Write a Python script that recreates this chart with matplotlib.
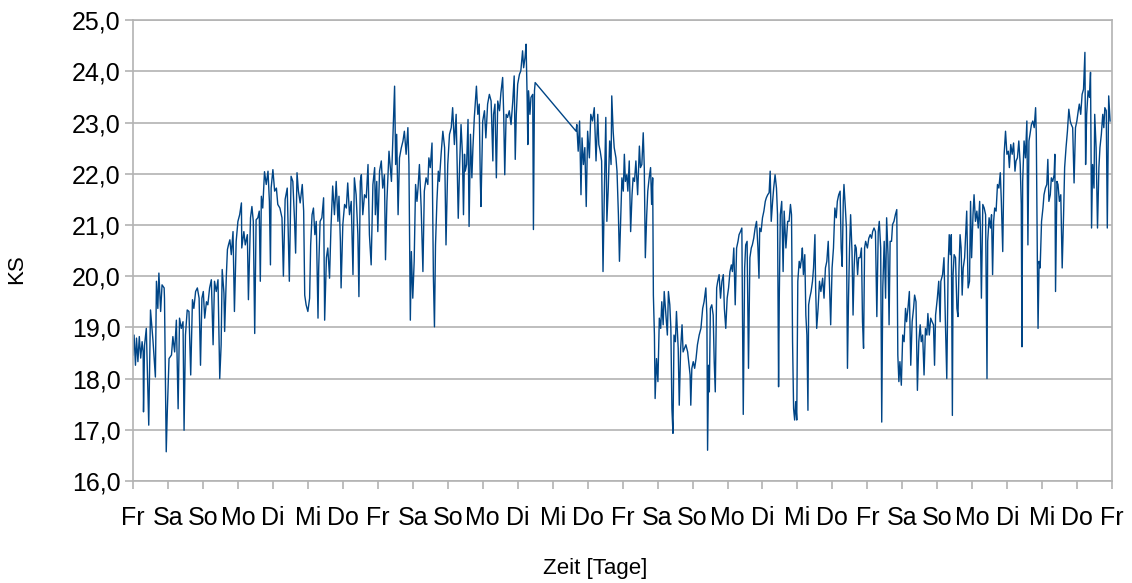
import matplotlib
matplotlib.use("Agg")
import matplotlib.pyplot as plt
from matplotlib.ticker import FuncFormatter, MultipleLocator

plt.rcParams['font.family'] = ['Liberation Sans', 'DejaVu Sans']

# time in days since the first Friday, KS values
t_week1 = [0.00, 0.03, 0.07, 0.10, 0.14, 0.18, 0.22, 0.26, 0.29, 0.30, 0.33, 0.38, 0.45, 0.50,
           0.57, 0.64, 0.67, 0.71, 0.74, 0.79, 0.83, 0.89, 0.90, 0.95, 0.98, 1.03, 1.10, 1.14,
           1.19, 1.24, 1.29, 1.33, 1.38, 1.43, 1.46, 1.50, 1.55, 1.60, 1.65, 1.70, 1.74, 1.79,
           1.84, 1.89, 1.93, 1.97, 2.01, 2.05, 2.10, 2.14, 2.19, 2.24, 2.29, 2.33, 2.38, 2.43,
           2.48, 2.52, 2.55, 2.60, 2.62, 2.67, 2.70, 2.73, 2.77, 2.81, 2.86, 2.90, 2.95, 3.00,
           3.05, 3.10, 3.11, 3.17, 3.21, 3.27, 3.30, 3.36, 3.40, 3.44, 3.48, 3.52, 3.57, 3.61,
           3.64, 3.67, 3.71, 3.76, 3.81, 3.86, 3.90, 3.93, 3.95, 4.00, 4.05, 4.10, 4.14, 4.20,
           4.26, 4.30, 4.35, 4.41, 4.47, 4.52, 4.57]
ks_week1 = [18.46, 18.85, 18.26, 18.79, 18.33, 18.82, 18.40, 18.72, 18.52, 17.35, 18.65, 18.98, 17.09, 19.34,
            18.75, 18.03, 19.90, 19.37, 20.06, 19.31, 19.83, 19.77, 19.57, 16.57, 17.35, 18.39, 18.46, 18.82,
            18.52, 19.14, 17.41, 19.18, 18.98, 19.11, 16.99, 18.85, 19.34, 19.31, 18.07, 19.54, 19.37, 19.70,
            19.77, 19.57, 18.26, 19.57, 19.70, 19.18, 19.50, 19.44, 19.77, 19.93, 18.66, 19.90, 19.70, 19.93,
            18.00, 18.66, 20.13, 19.67, 18.92, 20.03, 20.52, 20.61, 20.71, 20.42, 20.87, 19.31, 20.68, 21.07,
            21.20, 21.43, 20.55, 20.87, 20.61, 20.81, 19.54, 21.14, 21.36, 21.07, 18.88, 21.10, 21.14, 21.27,
            19.90, 21.56, 21.33, 22.04, 21.79, 22.05, 21.46, 20.22, 21.72, 22.08, 21.66, 21.72, 21.40, 21.33,
            21.14, 20.00, 21.50, 21.72, 19.90, 21.95, 21.85]

t_week2 = [4.62, 4.65, 4.69, 4.73, 4.78, 4.84, 4.88, 4.91, 4.95, 5.00, 5.05, 5.08, 5.12, 5.16,
           5.20, 5.24, 5.29, 5.31, 5.35, 5.40, 5.45, 5.48, 5.53, 5.57, 5.62, 5.66, 5.71, 5.76,
           5.81, 5.86, 5.89, 5.93, 5.95, 6.00, 6.05, 6.10, 6.14, 6.19, 6.24, 6.29, 6.33, 6.38,
           6.43, 6.46, 6.50, 6.53, 6.57, 6.62, 6.67, 6.72, 6.76, 6.81, 6.86, 6.91, 6.93, 6.97,
           7.00, 7.05, 7.10, 7.14, 7.19, 7.22, 7.26, 7.32, 7.35, 7.39, 7.43, 7.48, 7.51, 7.54,
           7.58, 7.62, 7.67, 7.72, 7.76, 7.81, 7.86, 7.89, 7.93, 7.96, 8.00, 8.04, 8.08, 8.12,
           8.15, 8.19, 8.24, 8.29, 8.33, 8.38, 8.43, 8.46, 8.50, 8.55, 8.59, 8.62, 8.65, 8.69,
           8.73, 8.76, 8.81, 8.86, 8.91, 8.95, 9.00, 9.05, 9.10, 9.14, 9.19, 9.24, 9.29]
ks_week2 = [21.07, 20.45, 22.02, 21.66, 21.43, 21.79, 21.27, 19.63, 19.44, 19.31, 19.57, 20.61, 21.20, 21.33,
            20.81, 21.07, 19.18, 20.16, 21.07, 21.14, 21.53, 19.14, 20.36, 20.55, 19.96, 20.94, 21.76, 21.20,
            21.85, 21.07, 21.56, 20.68, 19.77, 21.01, 21.40, 21.33, 21.82, 21.20, 21.46, 20.03, 21.92, 21.59,
            20.81, 19.60, 21.85, 21.98, 21.20, 21.59, 21.53, 22.18, 20.81, 20.22, 21.79, 22.12, 21.20, 21.85,
            20.87, 22.05, 22.25, 21.72, 21.98, 20.32, 21.46, 22.44, 22.18, 21.85, 22.67, 23.71, 22.18, 22.77,
            21.20, 22.31, 22.50, 22.64, 22.83, 22.38, 22.90, 22.18, 19.14, 20.48, 19.57, 20.29, 21.79, 21.46,
            21.72, 22.18, 21.33, 20.09, 21.66, 21.92, 21.79, 22.31, 22.12, 22.60, 19.96, 19.01, 20.61, 21.46,
            22.05, 21.85, 22.38, 22.83, 22.51, 20.61, 22.18, 22.77, 22.90, 23.29, 22.57, 23.16, 21.46]

t_week3 = [9.30, 9.34, 9.38, 9.42, 9.45, 9.48, 9.50, 9.54, 9.58, 9.61, 9.65, 9.69, 9.72, 9.76,
           9.79, 9.82, 9.86, 9.90, 9.93, 9.95, 10.00, 10.05, 10.09, 10.14, 10.19, 10.24, 10.29, 10.31,
           10.35, 10.39, 10.43, 10.48, 10.52, 10.57, 10.60, 10.63, 10.67, 10.71, 10.76, 10.81, 10.86, 10.90,
           10.93, 10.96, 11.00, 11.05, 11.09, 11.14, 11.17, 11.21, 11.24, 11.27, 11.29, 11.31, 11.35, 11.38,
           11.43, 11.45, 11.48, 11.50,
           12.67, 12.69, 12.73, 12.77, 12.81, 12.84, 12.88, 12.92, 12.96, 13.00, 13.05, 13.09, 13.14, 13.19,
           13.24, 13.29, 13.32, 13.36, 13.40, 13.44, 13.48, 13.52, 13.55, 13.59, 13.63, 13.67, 13.69, 13.73,
           13.76, 13.81, 13.84, 13.88, 13.91]
ks_week3 = [21.13, 22.18, 22.96, 22.38, 21.20, 22.38, 22.05, 22.18, 23.06, 20.97, 22.77, 21.92, 22.51, 23.10,
            23.42, 23.71, 23.16, 23.36, 21.92, 21.36, 23.03, 23.23, 22.70, 23.36, 23.55, 23.42, 22.25, 23.16,
            23.36, 21.92, 23.42, 23.23, 23.58, 23.88, 23.16, 21.98, 23.16, 23.10, 23.23, 22.96, 23.42, 23.91,
            22.28, 23.16, 23.75, 23.94, 24.01, 24.40, 24.07, 24.27, 24.53, 23.49, 22.57, 23.62, 23.16, 23.49,
            23.55, 20.91, 23.62, 23.78,
            22.83, 22.96, 22.44, 23.03, 21.59, 22.70, 22.18, 22.51, 21.36, 22.83, 22.31, 23.16, 23.03, 23.29,
            22.25, 23.16, 22.57, 22.44, 22.25, 20.09, 21.72, 23.10, 21.07, 21.72, 22.64, 22.18, 23.52, 22.83,
            22.51, 22.31, 22.05, 21.20, 20.29]

t_week4 = [13.95, 13.98, 14.02, 14.05, 14.08, 14.12, 14.15, 14.19, 14.23, 14.27, 14.30, 14.34, 14.38, 14.43,
           14.48, 14.51, 14.55, 14.59, 14.62, 14.65, 14.69, 14.72, 14.76, 14.80, 14.83, 14.86, 14.88, 14.91,
           14.93, 14.97, 15.01, 15.05, 15.09, 15.12, 15.16, 15.19, 15.24, 15.28, 15.31, 15.35, 15.38, 15.41,
           15.44, 15.47, 15.51, 15.54, 15.59, 15.62, 15.66, 15.70, 15.73, 15.77, 15.81, 15.86, 15.90, 15.93,
           15.95, 15.98, 16.02, 16.06, 16.10, 16.14, 16.19, 16.24, 16.29, 16.33, 16.38, 16.41, 16.43, 16.46,
           16.48, 16.51, 16.55, 16.59, 16.62, 16.65, 16.69, 16.72, 16.76, 16.80, 16.84, 16.88, 16.91, 16.95,
           16.99, 17.03, 17.07, 17.11, 17.14, 17.18, 17.22, 17.26, 17.30, 17.33, 17.37, 17.41, 17.45, 17.49,
           17.52, 17.56, 17.60, 17.64, 17.68, 17.71, 17.75, 17.79, 17.83, 17.87, 17.90, 17.92, 17.96, 18.00,
           18.04, 18.08, 18.11, 18.15, 18.19, 18.22, 18.25, 18.29, 18.32, 18.36, 18.40, 18.43, 18.46, 18.48,
           18.51, 18.55, 18.59, 18.62, 18.67, 18.72]
ks_week4 = [21.20, 21.92, 21.66, 22.38, 21.85, 21.98, 21.66, 22.25, 20.87, 21.59, 21.92, 21.85, 22.25, 21.59,
            22.54, 22.12, 22.18, 22.80, 22.12, 20.36, 21.20, 21.66, 21.92, 22.12, 21.40, 21.92, 19.63, 18.85,
            17.61, 18.39, 17.94, 19.18, 18.98, 19.50, 19.05, 19.70, 19.24, 18.85, 19.70, 19.44, 18.98, 17.41,
            16.93, 18.85, 18.72, 19.31, 18.59, 17.48, 18.59, 19.05, 18.52, 18.59, 18.66, 18.52, 18.26, 18.07,
            17.48, 18.20, 18.33, 18.20, 18.39, 18.66, 18.85, 18.98, 19.37, 19.50, 19.77, 19.24, 16.60, 18.26,
            17.74, 19.37, 19.44, 19.24, 18.33, 17.74, 19.77, 19.90, 20.03, 19.57, 19.90, 20.03, 19.37, 18.98,
            19.57, 19.77, 20.09, 20.22, 20.09, 20.55, 19.44, 20.55, 20.68, 20.81, 20.87, 20.94, 17.30, 20.16,
            20.61, 20.68, 18.20, 20.36, 20.55, 20.61, 20.74, 20.94, 21.07, 20.55, 19.96, 20.94, 20.87, 21.14,
            21.27, 21.46, 21.53, 21.59, 21.63, 22.05, 21.07, 21.46, 21.72, 21.98, 21.72, 21.20, 17.84, 19.57,
            21.20, 21.46, 20.09, 21.27, 20.55, 21.07]

t_week5 = [18.76, 18.80, 18.83, 18.86, 18.89, 18.92, 18.95, 18.98, 19.01, 19.05, 19.08, 19.12, 19.14, 19.17,
           19.21, 19.24, 19.27, 19.30, 19.32, 19.35, 19.39, 19.43, 19.46, 19.50, 19.52, 19.55, 19.59, 19.63,
           19.67, 19.72, 19.76, 19.80, 19.84, 19.88, 19.92, 19.95, 19.99, 20.03, 20.07, 20.11, 20.14, 20.18,
           20.22, 20.25, 20.28, 20.31, 20.33, 20.37, 20.40, 20.43, 20.46, 20.49, 20.52, 20.56, 20.59, 20.62,
           20.65, 20.68, 20.72, 20.75, 20.79, 20.83, 20.86, 20.89, 20.92, 20.95, 21.00, 21.04, 21.08, 21.12,
           21.15, 21.19, 21.23, 21.27, 21.31, 21.34, 21.38, 21.41, 21.44, 21.48, 21.52, 21.55, 21.59, 21.62,
           21.65, 21.69, 21.72, 21.76, 21.80, 21.84, 21.87, 21.90, 21.93, 21.97, 22.01, 22.05, 22.09, 22.12,
           22.16, 22.20, 22.24, 22.28, 22.32, 22.35, 22.39, 22.43, 22.47, 22.51, 22.54, 22.58, 22.62, 22.66,
           22.70, 22.73, 22.77, 22.81, 22.85, 22.89, 22.92, 22.95, 23.00, 23.04, 23.08, 23.10, 23.15, 23.19,
           23.23, 23.27, 23.31, 23.34]
ks_week5 = [21.07, 21.40, 21.20, 18.72, 17.41, 17.19, 17.55, 17.19, 19.90, 20.29, 20.16, 20.36, 20.55, 20.03,
            20.42, 19.24, 18.85, 17.38, 19.44, 19.57, 19.70, 19.90, 20.16, 20.81, 19.77, 18.98, 19.37, 19.90,
            19.70, 19.96, 19.57, 20.16, 20.29, 20.68, 19.77, 19.05, 20.16, 20.55, 21.33, 21.14, 21.46, 21.59,
            21.66, 20.55, 20.19, 21.46, 21.79, 21.33, 20.94, 18.20, 19.57, 20.55, 21.20, 20.48, 19.24, 20.16,
            20.61, 20.55, 20.03, 20.36, 20.36, 20.55, 19.11, 18.59, 20.55, 20.68, 20.55, 20.74, 20.81, 20.74,
            20.87, 20.94, 20.87, 19.21, 20.87, 21.07, 20.55, 17.15, 19.77, 20.68, 19.57, 21.14, 20.42, 19.05,
            20.68, 20.68, 21.01, 21.07, 21.20, 21.30, 18.46, 17.94, 18.33, 17.87, 18.85, 18.72, 19.37, 19.11,
            19.37, 19.70, 18.26, 19.11, 19.37, 19.63, 19.50, 17.77, 18.72, 19.05, 18.72, 18.85, 18.07, 18.98,
            18.85, 19.27, 18.85, 19.18, 19.11, 19.05, 18.26, 19.24, 19.57, 19.90, 19.11, 19.90, 20.03, 20.36,
            19.11, 18.00, 20.22, 20.81]

t_week6 = [23.37, 23.40, 23.43, 23.45, 23.48, 23.52, 23.56, 23.59, 23.62, 23.65, 23.68, 23.71, 23.74, 23.78,
           23.81, 23.84, 23.88, 23.92, 23.95, 23.98, 24.02, 24.05, 24.09, 24.13, 24.17, 24.21, 24.23, 24.26,
           24.30, 24.34, 24.38, 24.42, 24.44, 24.48, 24.52, 24.55, 24.58, 24.61, 24.64, 24.68, 24.72, 24.76,
           24.80, 24.83, 24.87, 24.91, 24.95, 24.99, 25.03, 25.06, 25.10, 25.14, 25.18, 25.22, 25.25, 25.29,
           25.33, 25.37, 25.40, 25.42, 25.44, 25.48, 25.52, 25.56, 25.59, 25.62, 25.65, 25.69, 25.73, 25.77,
           25.81, 25.83, 25.86, 25.88, 25.91, 25.94, 25.98, 26.02, 26.05, 26.09, 26.13, 26.16, 26.19, 26.23,
           26.26, 26.30, 26.34, 26.36, 26.38, 26.42, 26.45, 26.49, 26.53, 26.57, 26.61, 26.64, 26.68, 26.72,
           26.76, 26.80, 26.83, 26.87, 26.91, 26.95, 26.99, 27.03, 27.06, 27.10, 27.14, 27.18, 27.22, 27.24,
           27.27, 27.31, 27.35, 27.38, 27.41, 27.44, 27.48, 27.50, 27.54, 27.58, 27.62, 27.65, 27.69, 27.73,
           27.76, 27.79, 27.83, 27.86, 27.90, 27.94]
ks_week6 = [20.42, 20.81, 17.28, 20.03, 20.42, 20.36, 19.37, 19.21, 20.16, 20.81, 20.55, 19.63, 20.16, 20.36,
            20.81, 21.27, 19.77, 19.90, 21.46, 20.36, 21.20, 21.59, 21.07, 21.27, 20.94, 21.46, 20.94, 19.57,
            21.40, 21.33, 21.20, 18.00, 20.68, 21.14, 20.94, 21.20, 20.03, 21.07, 21.33, 21.27, 21.79, 21.72,
            22.02, 21.46, 20.48, 22.38, 22.83, 22.38, 22.44, 22.12, 22.57, 22.38, 22.60, 22.05, 22.25, 22.31,
            22.64, 22.18, 21.40, 18.62, 21.85, 22.64, 22.31, 23.03, 20.61, 22.64, 22.77, 22.96, 23.03, 22.90,
            23.29, 22.77, 20.29, 18.98, 20.29, 20.16, 21.07, 21.33, 21.59, 21.72, 21.79, 22.28, 21.46, 21.59,
            21.92, 21.85, 21.98, 22.38, 19.70, 21.85, 21.79, 21.46, 21.59, 20.16, 21.20, 22.12, 22.51, 22.83,
            23.26, 23.03, 22.96, 22.90, 21.82, 22.90, 23.03, 23.23, 23.36, 23.16, 23.55, 23.65, 24.37, 22.18,
            23.16, 23.62, 23.49, 23.98, 20.94, 22.18, 21.72, 23.16, 22.51, 20.94, 22.12, 22.51, 22.77, 23.16,
            22.90, 23.29, 23.23, 20.94, 23.52, 23.03]

day_labels = ['Fr', 'Sa', 'So', 'Mo', 'Di', 'Mi', 'Do'] * 4 + ['Fr']

t = t_week1 + t_week2 + t_week3 + t_week4 + t_week5 + t_week6
ks = ks_week1 + ks_week2 + ks_week3 + ks_week4 + ks_week5 + ks_week6

fig = plt.figure(figsize=(11.32, 5.83), dpi=100)
ax = fig.add_axes([0.1175, 0.175, 0.865, 0.7905])

ax.plot(t, ks, color='#004586', linewidth=1.0)

ax.set_xlim(0, 28)
ax.set_ylim(16, 25)
ax.yaxis.set_major_locator(MultipleLocator(1))
ax.yaxis.set_major_formatter(FuncFormatter(lambda v, p: f"{v:.1f}".replace('.', ',')))
ax.set_xticks(range(29))
ax.set_xticklabels(day_labels)

grid_col = '#b3b3b3'
ax.grid(axis='y', color=grid_col, linewidth=1.2)
ax.set_axisbelow(True)
for s in ax.spines.values():
    s.set_color(grid_col)
    s.set_linewidth(1.2)
ax.tick_params(axis='both', colors=grid_col, labelcolor='black', labelsize=18,
               length=6, width=1.2)
ax.tick_params(axis='x', pad=12)
ax.tick_params(axis='y', pad=3)

ax.set_xlabel('Zeit [Tage]', fontsize=16)
ax.set_ylabel('KS', fontsize=16)
ax.xaxis.set_label_coords(0.472, -0.168)
ax.yaxis.set_label_coords(-0.108, 0.46)

fig.savefig('out.png', dpi=100)
